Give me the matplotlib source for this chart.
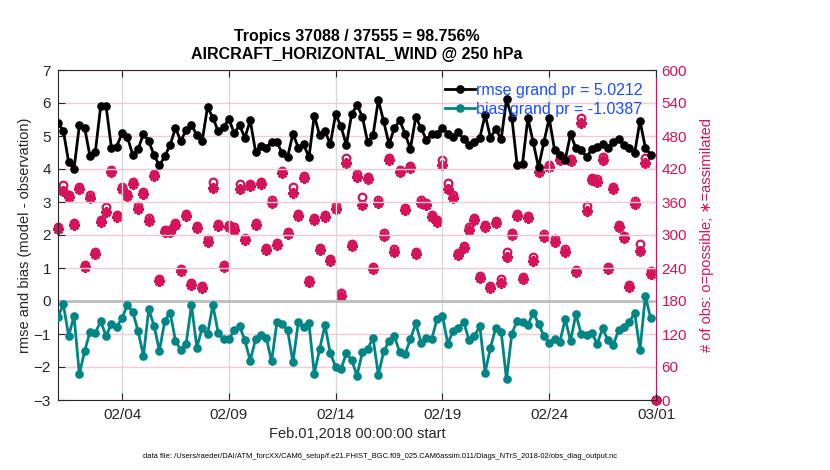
import numpy as np
import pandas as pd
import matplotlib
matplotlib.use("Agg")
import matplotlib.pyplot as plt

plt.rcParams['font.family'] = ['Liberation Sans', 'DejaVu Sans']

# ---------------- data ----------------
start = "2018-02-01 00:00"
rmse = [5.39, 5.16, 4.20, 4.00, 5.32, 5.24, 4.38, 4.53, 5.91, 5.91,
        4.65, 4.68, 5.09, 4.96, 4.43, 4.60, 5.06, 4.85, 4.41, 4.11,
        4.38, 4.73, 5.24, 4.85, 5.19, 5.34, 5.02, 4.85, 5.87, 5.56,
        5.14, 5.26, 5.52, 5.09, 5.32, 4.95, 5.47, 4.53, 4.71, 4.65,
        4.83, 4.81, 4.48, 4.36, 5.07, 4.65, 4.75, 4.35, 5.62, 5.02,
        5.14, 4.76, 5.66, 5.29, 4.73, 5.66, 5.94, 5.59, 4.81, 5.02,
        6.09, 5.44, 4.75, 5.24, 5.47, 5.07, 4.61, 5.57, 5.24, 4.88,
        5.07, 5.07, 5.24, 5.07, 4.96, 5.11, 4.90, 4.73, 4.81, 4.95,
        5.64, 4.95, 5.21, 4.90, 6.11, 5.56, 4.11, 4.16, 5.54, 4.81,
        4.05, 4.81, 5.54, 4.58, 4.41, 4.28, 5.06, 4.63, 4.58, 4.36,
        4.61, 4.68, 4.75, 4.65, 4.81, 4.90, 4.73, 4.63, 4.48, 5.46,
        4.65, 4.43]
bias = [-0.48, -0.10, -1.06, -0.45, -2.22, -1.51, -0.93, -0.96, -0.62, -1.06,
        -0.70, -0.78, -0.52, -0.12, -0.33, -0.91, -1.66, -0.25, -0.76, -1.51,
        -0.60, -0.35, -1.20, -1.49, -1.29, -0.12, -1.41, -0.83, -1.01, -0.12,
        -0.96, -1.16, -1.16, -0.89, -0.76, -1.19, -1.81, -1.16, -1.04, -1.11,
        -1.83, -0.65, -0.70, -0.88, -1.86, -0.65, -0.79, -0.68, -2.20, -1.46,
        -0.73, -1.59, -1.99, -2.06, -1.59, -1.79, -2.26, -1.56, -1.46, -1.11,
        -2.24, -1.53, -1.21, -1.06, -1.56, -1.61, -1.16, -0.68, -1.26, -1.11,
        -1.14, -0.55, -0.45, -1.29, -0.91, -0.81, -0.65, -1.19, -1.06, -0.76,
        -2.17, -1.41, -0.81, -0.93, -2.37, -0.99, -0.60, -0.65, -0.73, -0.35,
        -0.70, -1.06, -1.26, -1.16, -1.23, -0.55, -1.21, -0.40, -1.01, -1.03,
        -0.98, -1.29, -0.83, -1.19, -1.33, -0.88, -0.79, -0.65, -0.35, -1.49,
        0.15, -0.52]
nposs = [315, 390, 373, 322, 388, 246, 373, 269, 328, 350,
         419, 337, 388, 375, 396, 352, 378, 330, 411, 220,
         309, 310, 322, 239, 338, 213, 316, 207, 292, 396,
         320, 246, 319, 314, 393, 295, 393, 322, 396, 277,
         363, 286, 417, 306, 387, 338, 408, 219, 331, 277,
         337, 256, 352, 194, 440, 284, 410, 369, 405, 242,
         363, 303, 440, 274, 419, 349, 425, 270, 363, 358,
         337, 328, 437, 395, 372, 268, 280, 314, 331, 225,
         319, 207, 326, 220, 269, 304, 338, 224, 335, 260,
         418, 301, 427, 292, 440, 274, 439, 236, 512, 353,
         404, 401, 441, 242, 388, 319, 298, 209, 361, 283,
         440, 234, 0]
nused = [311, 380, 369, 318, 384, 242, 367, 265, 324, 342,
         415, 333, 384, 371, 392, 348, 374, 326, 407, 216,
         305, 306, 318, 235, 334, 209, 312, 203, 288, 385,
         316, 242, 315, 310, 384, 291, 389, 318, 392, 273,
         359, 282, 413, 302, 376, 334, 404, 215, 327, 273,
         333, 252, 348, 190, 430, 280, 406, 355, 401, 238,
         359, 299, 436, 270, 415, 345, 421, 266, 359, 354,
         333, 324, 427, 384, 368, 264, 276, 310, 327, 221,
         315, 203, 322, 213, 260, 300, 334, 220, 331, 253,
         414, 297, 423, 288, 436, 270, 435, 232, 503, 344,
         400, 397, 437, 238, 384, 315, 294, 205, 357, 271,
         430, 230, 0]
tick_dates = ["2018-02-04", "2018-02-09", "2018-02-14", "2018-02-19", "2018-02-24", "2018-03-01"]
tick_labels = ["02/04", "02/09", "02/14", "02/19", "02/24", "03/01"]
legend_labels = ["rmse grand pr = 5.0212", "bias grand pr = -1.0387"]
title_lines = ["Tropics 37088 / 37555 = 98.756%", "AIRCRAFT_HORIZONTAL_WIND @ 250 hPa"]

t_stat = pd.date_range(start, periods=len(rmse), freq="6h")
t_cnt = pd.date_range(start, periods=len(nposs), freq="6h")

# ---------------- style ----------------
RED = '#d5135a'
TEAL = '#008585'
BLUE = '#1a4dff'
AXC = '#262626'

fig = plt.figure(figsize=(8.3, 4.7), dpi=100)
ax = fig.add_axes([58/830, 70/470, 598/830, 330/470])
ax2 = ax.twinx()
ax.set_zorder(ax2.get_zorder() + 1)
ax.patch.set_visible(False)

# counts on the right axis
ax2.plot(t_cnt, nposs, linestyle='none', marker='o', ms=5.5, mfc='none', mec=RED, mew=1.6, clip_on=False)
ax2.plot(t_cnt, nused, linestyle='none', marker=(8, 2, 0), ms=7.5, mec=RED, mew=1.9, color=RED, clip_on=False)
ax2.set_ylim(0, 600)
ax2.set_yticks(np.arange(0, 601, 60))
ax2.tick_params(axis='y', colors=RED, direction='in', length=5, labelsize=11, width=0.8, pad=4)
ax2.spines['right'].set_color(RED)
for s in ['left', 'top', 'bottom']:
    ax2.spines[s].set_visible(False)
ax2.set_ylabel("# of obs: o=possible; \u2217=assimilated", color=RED, fontsize=10.5, labelpad=9)

# grid on left axis
ax.set_axisbelow(True)
ax.yaxis.grid(True, color='#f3c9d8', lw=1)
ax.xaxis.grid(True, color='#d9d9d9', lw=1)
ax.axhline(0, color='#bdbdbd', lw=2, zorder=1)

l1, = ax.plot(t_stat, rmse, color='black', lw=2, marker='o', ms=5.2, zorder=3)
l2, = ax.plot(t_stat, bias, color=TEAL, lw=2, marker='o', ms=5.2, zorder=3)

ax.set_ylim(-3, 7)
ax.set_yticks(np.arange(-3, 8, 1))
ax.set_xlim(pd.Timestamp("2018-02-01"), pd.Timestamp("2018-03-01"))
ax.set_xticks([pd.Timestamp(d) for d in tick_dates])
ax.set_xticklabels(tick_labels)
ax.tick_params(axis='both', direction='in', length=5, labelsize=11, colors=AXC, width=0.8, top=True)
ax.tick_params(axis='x', pad=6)
ax.tick_params(axis='y', pad=5)
for s in ['left', 'top', 'bottom']:
    ax.spines[s].set_color(AXC)
ax.spines['right'].set_visible(False)
ax.set_ylabel("rmse and bias (model - observation)", fontsize=10.5, color=AXC, labelpad=1)
ax.set_xlabel("Feb.01,2018 00:00:00 start", fontsize=10.5, color=AXC, labelpad=3)

leg = ax.legend([l1, l2], legend_labels, loc='upper left', bbox_to_anchor=(0.647, 0.962),
                frameon=False, fontsize=11.5, handlelength=1.9, handletextpad=0.05,
                borderpad=0, borderaxespad=0, labelspacing=0.25)
for txt in leg.get_texts():
    txt.set_color(BLUE)

fig.text(357/830, 1 - 37/470, title_lines[0], ha='center', va='center', fontsize=11.5, fontweight='bold')
fig.text(357/830, 1 - 55/470, title_lines[1], ha='center', va='center', fontsize=11.5, fontweight='bold')
fig.text(380/830, 1 - 457/470,
         "data file: /Users/raeder/DAI/ATM_forcXX/CAM6_setup/f.e21.FHIST_BGC.f09_025.CAM6assim.011/Diags_NTrS_2018-02/obs_diag_output.nc",
         ha='center', va='center', fontsize=5.4)

fig.savefig("out.png", dpi=100)
